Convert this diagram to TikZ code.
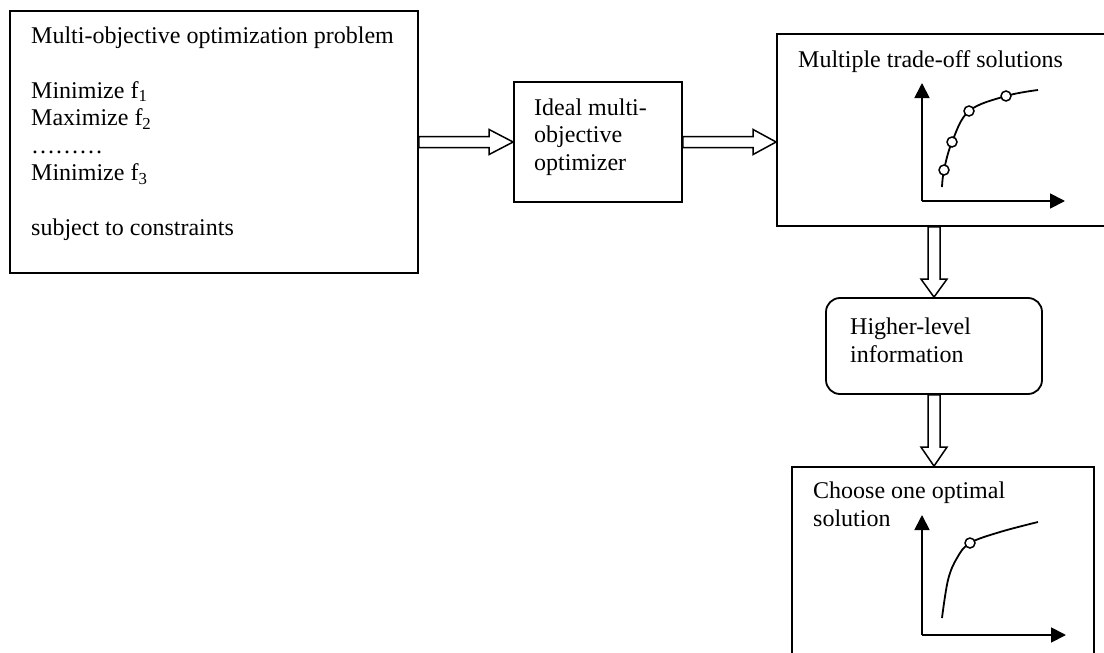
\documentclass[tikz,border=0pt]{standalone}
\usepackage{fontspec}
\setmainfont{Liberation Serif}
\usetikzlibrary{arrows.meta,calc}
\begin{document}
\begin{tikzpicture}[x=1pt,y=-1pt,
  box/.style={draw, line width=1.8pt, inner sep=0pt},
  rbox/.style={box, rounded corners=14pt},
  txt/.style={anchor=base west, inner sep=0pt, font=\fontsize{24pt}{27.6pt}\selectfont},
  barrow/.style={draw, line width=1.5pt, fill=white, line join=miter},
  axis/.style={line width=1.8pt, -{Triangle[length=15pt,width=15pt]}},
  crv/.style={line width=1.8pt},
  dotc/.style={circle, draw, line width=1.5pt, fill=white, minimum size=10pt, inner sep=0pt}]
\useasboundingbox (0,0) rectangle (1104,653);
\clip (0,0) rectangle (1104,653);
\fill[white] (0,0) rectangle (1104,653);

% boxes
\node[box, minimum width=408pt, minimum height=262pt] (prob) at (214,142) {};
\node[box, minimum width=168pt, minimum height=120pt] (opt) at (598,142) {};
\node[box, minimum width=333pt, minimum height=192pt] (multi) at (943.5,130) {};
\node[rbox, minimum width=216pt, minimum height=96pt] (hl) at (934,346) {};
\node[box, minimum width=302pt, minimum height=200pt] (choose) at (943,567) {};

% texts
\node[txt] (p1) at (31,43) {Multi-objective optimization problem};
\node[txt] (p2) at (31,98) {Minimize f\textsubscript{1}};
\node[txt] (p3) at (31,125.5) {Maximize f\textsubscript{2}};
\node[txt] (p4) at (31,153) {………};
\node[txt] (p5) at (31,180.5) {Minimize f\textsubscript{3}};
\node[txt] (p6) at (31,235.5) {subject to constraints};

\node[txt] (o1t) at (534,115) {Ideal multi-};
\node[txt] (o2t) at (534,142.5) {objective};
\node[txt] (o3t) at (534,170) {optimizer};

\node[txt] (m1t) at (798,67) {Multiple trade-off solutions};

\node[txt] (h1t) at (850,334) {Higher-level};
\node[txt] (h2t) at (850,362) {information};

\node[txt] (c1t) at (813,498) {Choose one optimal};
\node[txt] (c2t) at (813,526) {solution};

% block arrows
\draw[barrow] let \p1=(prob.east), \p2=(opt.west) in
  (\x1,\y1+5.5pt) -- (\x2-24pt,\y1+5.5pt) -- (\x2-24pt,\y1+12.5pt) -- (\x2,\y1)
  -- (\x2-24pt,\y1-12.5pt) -- (\x2-24pt,\y1-5.5pt) -- (\x1,\y1-5.5pt) -- cycle;
\draw[barrow] let \p1=(opt.east), \p2=(multi.west) in
  (\x1,\y1+5.5pt) -- (\x2-23pt,\y1+5.5pt) -- (\x2-23pt,\y1+12.5pt) -- (\x2,\y1)
  -- (\x2-23pt,\y1-12.5pt) -- (\x2-23pt,\y1-5.5pt) -- (\x1,\y1-5.5pt) -- cycle;
\draw[barrow] let \p1=(multi.south), \p2=(hl.north) in
  (\x2-6pt,\y1) -- (\x2-6pt,\y2+18pt) -- (\x2-13pt,\y2+18pt) -- (\x2,\y2)
  -- (\x2+13pt,\y2+18pt) -- (\x2+6pt,\y2+18pt) -- (\x2+6pt,\y1) -- cycle;
\draw[barrow] let \p1=(hl.south), \p2=(choose.north) in
  (\x1-6pt,\y1) -- (\x1-6pt,\y2+19pt) -- (\x1-13pt,\y2+19pt) -- (\x1,\y2)
  -- (\x1+13pt,\y2+19pt) -- (\x1+6pt,\y2+19pt) -- (\x1+6pt,\y1) -- cycle;

% plot 1
\coordinate (a1o) at (922,201);
\coordinate (a1y) at (922,83);
\coordinate (a1x) at (1065,201);
\draw[axis] (a1o) -- (a1y);
\draw[axis] (a1o) -- (a1x);
\draw[crv] plot[smooth, tension=0.6] coordinates {(942,187) (944,170) (952,142) (969,111) (1006,96) (1038,90)};
\node[dotc] (s1) at (944,170) {};
\node[dotc] (s2) at (952,142) {};
\node[dotc] (s3) at (969,111) {};
\node[dotc] (s4) at (1006,96) {};

% plot 2
\coordinate (a2o) at (922,635);
\coordinate (a2y) at (922,515);
\coordinate (a2x) at (1066,635);
\draw[axis] (a2o) -- (a2y);
\draw[axis] (a2o) -- (a2x);
\draw[crv] plot[smooth, tension=0.6] coordinates {(942,618) (948,580) (957,558) (970,543) (1000,532) (1038,522)};
\node[dotc] (s5) at (970,543) {};
\end{tikzpicture}
\end{document}
